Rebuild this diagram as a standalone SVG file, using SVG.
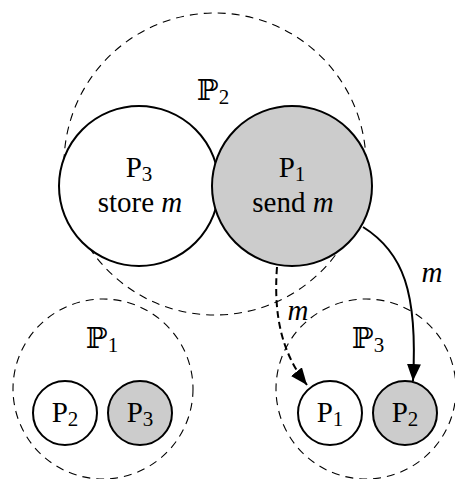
<svg xmlns="http://www.w3.org/2000/svg" width="455" height="479" viewBox="0 0 455 479">
<defs>
<style>
.grp{fill:none;stroke:#000;stroke-width:1.1;stroke-dasharray:8,6}
.proc{stroke:#000;stroke-width:2}
.white{fill:#fff}
.gray{fill:#cccccc}
text{font-family:"Liberation Serif","DejaVu Serif",serif;font-size:29px;fill:#000;text-anchor:middle}
.sub{font-size:21px}
.it{font-style:italic}
.edge{fill:none;stroke:#000;stroke-width:2}
</style>
<marker id="ah" viewBox="0 0 17 14" refX="17" refY="7" markerWidth="17" markerHeight="14" markerUnits="userSpaceOnUse" orient="auto">
<path d="M0,0 L17,7 L0,14 Z" fill="#000"/>
</marker>
</defs>
<g id="groups">
<g id="group-P2"><circle class="grp" cx="215" cy="164" r="151"/><text x="213" y="100">ℙ<tspan class="sub" dy="4">2</tspan></text></g>
<g id="group-P1"><circle class="grp" cx="103" cy="389" r="90"/><text x="102" y="348">ℙ<tspan class="sub" dy="4">1</tspan></text></g>
<g id="group-P3"><circle class="grp" cx="366" cy="389" r="90"/><text x="368" y="348">ℙ<tspan class="sub" dy="4">3</tspan></text></g>
</g>
<g id="node-big-P3"><circle class="proc white" cx="139" cy="186" r="80"/><text x="139" y="177">P<tspan class="sub" dy="4">3</tspan></text><text x="140" y="212">store <tspan class="it">m</tspan></text></g>
<g id="node-big-P1"><circle class="proc gray" cx="292" cy="186" r="80"/><text x="292" y="177">P<tspan class="sub" dy="4">1</tspan></text><text x="293" y="212">send <tspan class="it">m</tspan></text></g>
<g id="node-P2-left"><circle class="proc white" cx="65" cy="413" r="32"/><text x="65" y="422">P<tspan class="sub" dy="4">2</tspan></text></g>
<g id="node-P3-left"><circle class="proc gray" cx="140" cy="413" r="32"/><text x="140" y="422">P<tspan class="sub" dy="4">3</tspan></text></g>
<g id="node-P1-right"><circle class="proc white" cx="330" cy="413" r="32"/><text x="330" y="422">P<tspan class="sub" dy="4">1</tspan></text></g>
<g id="node-P2-right"><circle class="proc gray" cx="405" cy="413" r="32"/><text x="405" y="422">P<tspan class="sub" dy="4">2</tspan></text></g>
<g id="connectors">
<path class="edge" d="M363,227 C403,252 418,292 413,381" marker-end="url(#ah)"/>
<text class="it" x="432" y="282">m</text>
<path class="edge" d="M277,267 C273,320 284,356 307,385" stroke-dasharray="7,4" marker-end="url(#ah)"/>
<text class="it" x="298" y="320">m</text>
</g>
</svg>
